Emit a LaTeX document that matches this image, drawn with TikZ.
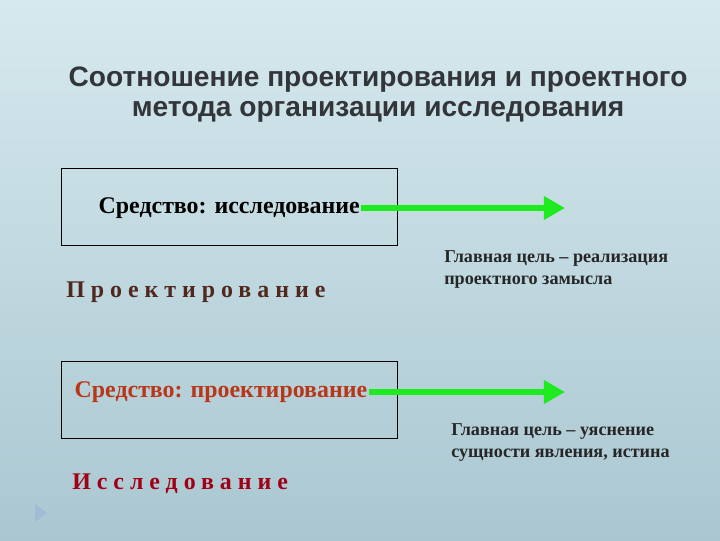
\documentclass[tikz,border=0pt]{standalone}
\usepackage{fontspec}
\setmainfont{Liberation Serif}
\newfontfamily\titlefont{Liberation Sans}
\newfontfamily\spacedfont[LetterSpace=25]{Liberation Serif}
\usetikzlibrary{positioning,arrows.meta}

\definecolor{bgtop}{RGB}{214,233,238}
\definecolor{bgbottom}{RGB}{170,199,209}
\definecolor{titlegray}{RGB}{50,54,58}
\definecolor{arrowgreen}{RGB}{30,235,30}
\definecolor{brownish}{RGB}{80,40,30}
\definecolor{rustred}{RGB}{185,55,25}
\definecolor{darkred}{RGB}{160,0,20}
\definecolor{markblue}{RGB}{160,188,215}

\tikzset{
  framebox/.style={draw=black,line width=0.8pt,minimum width=336*0.025cm,minimum height=77*0.025cm,anchor=north west},
  meansof/.style={font=\fontsize{17}{20}\selectfont\bfseries,anchor=west,inner sep=1pt},
  spacedword/.style={font=\spacedfont\fontsize{17}{20}\selectfont\bfseries,anchor=west,inner sep=0pt},
  goal/.style={font=\fontsize{12.9}{15.6}\selectfont\bfseries,align=left,anchor=north west,inner sep=0pt,text=black!85},
  goarrow/.style={draw=arrowgreen,line width=4.4pt,-{Triangle[length=15pt,width=16pt]}}
}

\begin{document}
\begin{tikzpicture}[x=0.025cm,y=-0.025cm]
                \shade[top color=bgtop,bottom color=bgbottom] (0,0) rectangle (720,540);
                \fill[markblue] (35,504) -- (47,513) -- (35,522) -- cycle;
                \node[font=\titlefont\bfseries\fontsize{20}{21.2}\selectfont,text=titlegray,align=center] (title) at (378,95)
                  {Соотношение проектирования и проектного\\метода организации исследования};
                % first pair
                \node[framebox] (box1) at (61,168) {};
                \node[meansof] (src1) at (97,208) {Средство: исследование};
                \coordinate (t1) at (565,208);
                \draw[goarrow] (src1.east) -- (src1.east -| t1);
                \node[spacedword,text=brownish] (word1) at (66,292) {Проектирование};
                \node[goal] (goal1) at (444,250) {Главная цель – реализация\\проектного замысла};
                % second pair
                \node[framebox] (box2) at (61,361) {};
                \node[meansof,text=rustred] (src2) at (73,392) {Средство: проектирование};
                \coordinate (t2) at (565,393);
                \draw[goarrow] (src2.east) -- (src2.east -| t2);
                \node[spacedword,text=darkred] (word2) at (72,484) {Исследование};
                \node[goal] (goal2) at (451,423) {Главная цель – уяснение\\сущности явления, истина};
            \end{tikzpicture}
\end{document}
